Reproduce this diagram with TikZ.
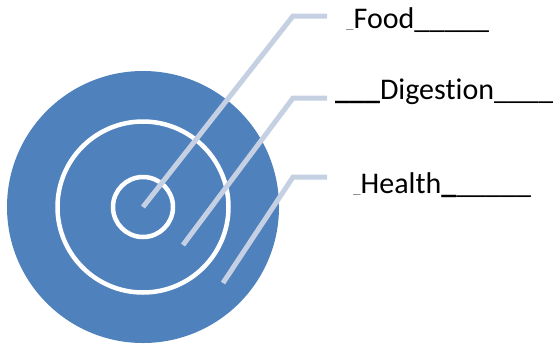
\documentclass[tikz,border=0pt]{standalone}
\usepackage{fontspec}
\setmainfont{Carlito}[Ligatures=NoCommon]
\usepackage{tikz}
\definecolor{targetblue}{RGB}{79,129,189}
\definecolor{leaderblue}{RGB}{197,208,227}
\newcommand{\thinbar}{{\color{gray}\fontsize{15}{15}\selectfont\_}}
\newcommand{\thickbar}{\textbf{\_}}
\tikzset{leader/.style={draw=leaderblue, line width=5pt, line join=miter},
	ring/.style={draw=white, line width=4.5pt},
	label/.style={anchor=base west, inner sep=0pt, font=\fontsize{30}{36}\selectfont}}

\begin{document}
\begin{tikzpicture}[x=1pt,y=-1pt]
		\useasboundingbox (0,0) rectangle (553,343);
		% target
		\fill [targetblue] (143,207) circle (136);
		\draw [ring] (143,207) circle (85.5);
		\draw [ring] (143,207) circle (30);
		% leader ends
		\coordinate (foodtip) at (143,207);
		\coordinate (digtip) at (183,245);
		\coordinate (healthtip) at (223,283);
		\coordinate (foodend) at (327,16);
		\coordinate (digend) at (327,98);
		\coordinate (healthend) at (327,177);
		% labels
		\node [label] (food) at (346,28) {\thinbar Food\_\_\_\_\_};
		\node [label] (digestion) at (335,99) {\thickbar\thickbar\thickbar Digest\kern0pt ion\_\_\_\_};
		\node [label] (health) at (353,193) {\thinbar Health\thickbar\_\_\_\_\_};
		% leaders
		\draw [leader] (foodtip) -- (293,16) -- (foodend);
		\draw [leader] (digtip) -- (293,98) -- (digend);
		\draw [leader] (healthtip) -- (293,177) -- (healthend);
	\end{tikzpicture}
\end{document}
